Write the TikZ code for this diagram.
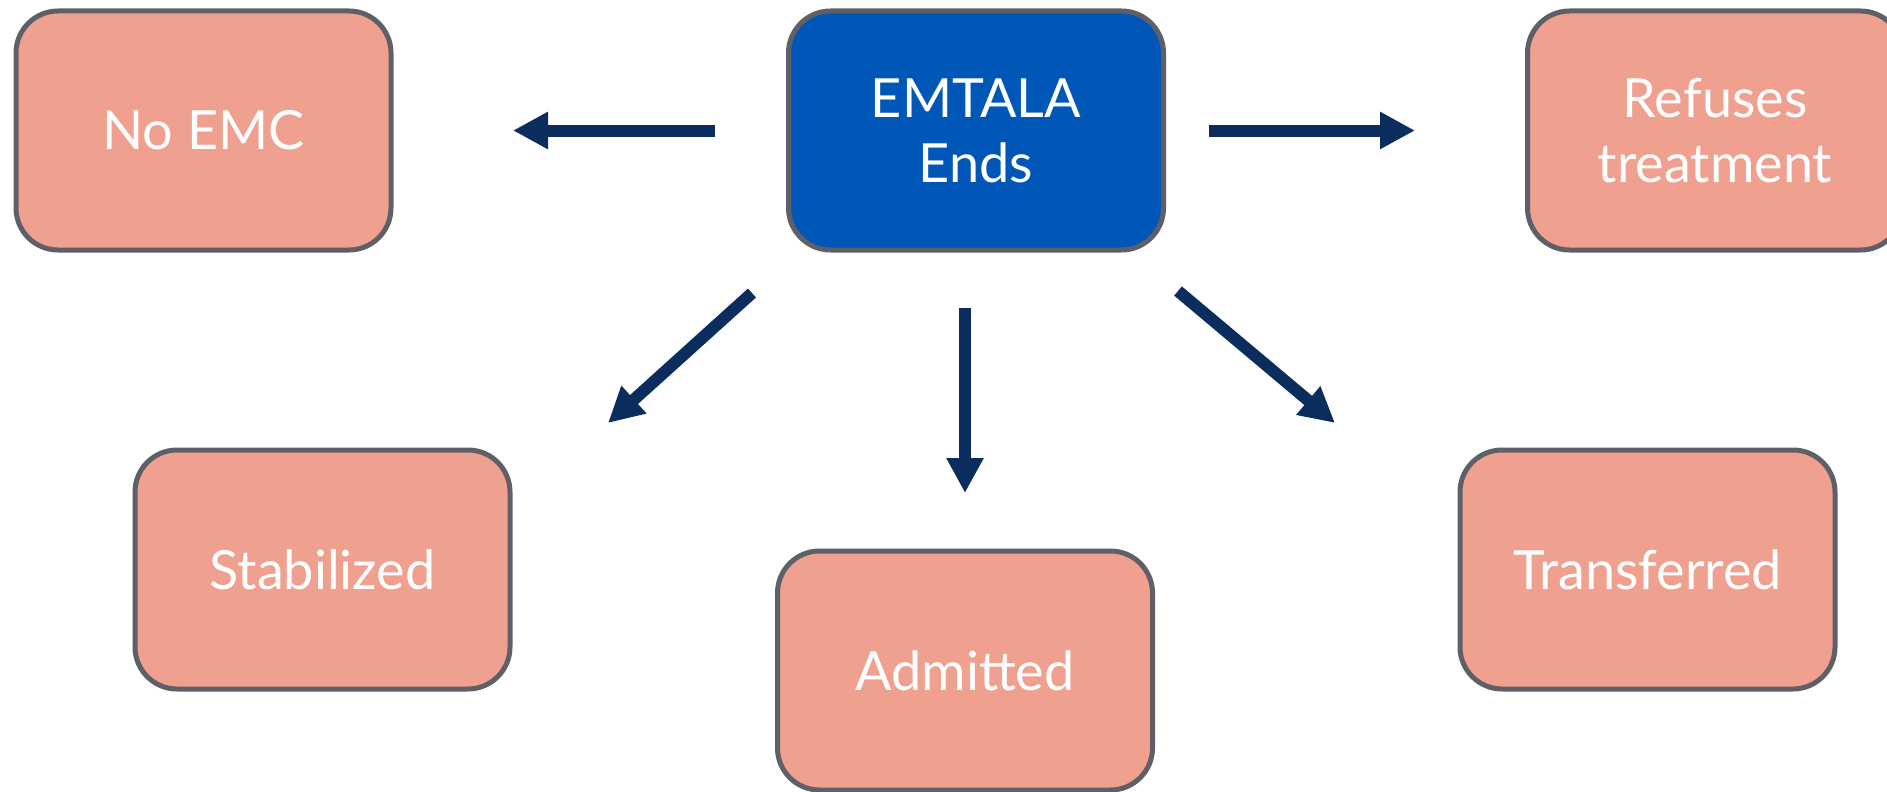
\documentclass[tikz,border=0pt]{standalone}
\usepackage{fontspec}
\setmainfont{Lato}
\usetikzlibrary{arrows.meta,calc}
\definecolor{salmon}{HTML}{F0A08E}
\definecolor{boxblue}{HTML}{0057B8}
\definecolor{edgegray}{HTML}{5F5F68}
\definecolor{arrblue}{HTML}{0B2D5E}
\begin{document}
\begin{tikzpicture}[x=1pt,y=-1pt,
  box/.style={draw=edgegray, line width=5pt, rounded corners=42pt, fill=salmon,
    minimum width=375pt, minimum height=239pt, inner sep=0pt, text=white,
    align=center, font=\fontsize{54}{65}\selectfont},
  bluebox/.style={box, fill=boxblue},
  arr/.style={draw=arrblue, line width=12pt,
    -{Triangle[length=35pt 0 0, width=35pt 0 0]}}]
\useasboundingbox (0,0) rectangle (1887,792);
\node[box] (noemc) at (203.5,130.5) {No EMC};
\node[bluebox] (ctr) at (976,130.5) {EMTALA\\Ends};
\node[box] (ref) at (1715,130.5) {Refuses\\treatment};
\node[box] (stab) at (322.5,569.5) {Stabilized};
\node[box] (adm) at (965,670.5) {Admitted};
\node[box] (trans) at (1647.5,569.5) {Transferred};
% arrow ends
\coordinate (l1) at (715,130.5);
\coordinate (l2) at (513,130.5);
\coordinate (r1) at (1209,130.5);
\coordinate (r2) at (1415,130.5);
\coordinate (dl1) at (752,293);
\coordinate (dl2) at (608,423);
\coordinate (d1) at (965,308);
\coordinate (d2) at (965,493);
\coordinate (dr1) at (1178,291);
\coordinate (dr2) at (1335,423);
\draw[arr] (l1) -- (l2);
\draw[arr] (r1) -- (r2);
\draw[arr] (dl1) -- (dl2);
\draw[arr] (d1) -- (d2);
\draw[arr] (dr1) -- (dr2);
\end{tikzpicture}
\end{document}
